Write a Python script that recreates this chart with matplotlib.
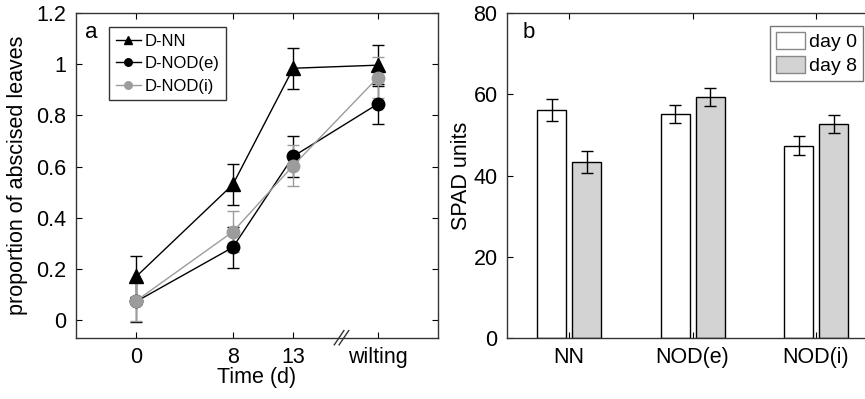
import numpy as np
import matplotlib.pyplot as plt
from matplotlib.ticker import FuncFormatter

plt.rcParams['font.family'] = ['Liberation Sans', 'DejaVu Sans']

# panel a: proportion of abscised leaves
time_pos = [0, 8, 13, 20]
time_labels = ['0', '8', '13', 'wilting']
nn_mean = [0.17, 0.53, 0.985, 0.997]
nn_err = [0.08, 0.08, 0.08, 0.08]
node_mean = [0.072, 0.284, 0.64, 0.845]
node_err = [0.08, 0.08, 0.08, 0.08]
nodi_mean = [0.075, 0.345, 0.604, 0.948]
nodi_err = [0.08, 0.08, 0.08, 0.08]

# panel b: SPAD units
groups = ['NN', 'NOD(e)', 'NOD(i)']
day0_mean = [56.2, 55.2, 47.4]
day0_err = [2.7, 2.3, 2.3]
day8_mean = [43.3, 59.3, 52.8]
day8_err = [2.8, 2.2, 2.2]

fig = plt.figure(figsize=(8.65, 3.99), dpi=100)
ax1 = fig.add_axes([0.0879, 0.1536, 0.4185, 0.813])
ax2 = fig.add_axes([0.5865, 0.1536, 0.4283, 0.813])

fs = 15.5
gray = '#9c9c9c'

for ax in (ax1, ax2):
    ax.tick_params(direction='in', top=True, right=True, length=4, width=0.8,
                   labelsize=fs, pad=7)
    for s in ax.spines.values():
        s.set_linewidth(1.0)
        s.set_color('#333333')

# --- panel a ---
e1 = ax1.errorbar(time_pos, nn_mean, yerr=nn_err, color='black', marker='^', ms=10,
                  lw=1, capsize=4, elinewidth=1)
e2 = ax1.errorbar(time_pos, node_mean, yerr=node_err, color='black', marker='o', ms=9,
                  lw=1, capsize=4, elinewidth=1)
e3 = ax1.errorbar(time_pos, nodi_mean, yerr=nodi_err, color=gray, marker='o', ms=9,
                  lw=1, capsize=4, elinewidth=1)

ax1.set_xlim(-5, 25)
ax1.set_ylim(-0.07, 1.2)
ax1.set_xticks(time_pos)
ax1.set_xticklabels(time_labels)
ax1.set_yticks(np.arange(0, 1.21, 0.2))
ax1.yaxis.set_major_formatter(FuncFormatter(lambda v, p: f'{v:g}'))
ax1.set_xlabel('Time (d)', fontsize=fs, labelpad=-1)
ax1.set_ylabel('proportion of abscised leaves', fontsize=fs, labelpad=6)

# axis break marks
for dx in (-0.2, 0.2):
    ax1.plot([17 + dx - 0.4, 17 + dx + 0.4], [-0.022, 0.022], color='#333333',
             lw=1, transform=ax1.get_xaxis_transform(), clip_on=False)

leg1 = ax1.legend([e1[0], e2[0], e3[0]], ['D-NN', 'D-NOD(e)', 'D-NOD(i)'],
                  loc='upper left', bbox_to_anchor=(0.091, 0.958), borderaxespad=0,
                  fontsize=12, fancybox=False, edgecolor='black', markerscale=0.6,
                  handlelength=1.5, handletextpad=0.25, borderpad=0.4, labelspacing=0.45)
leg1.get_frame().set_linewidth(1.0)
ax1.text(0.025, 0.942, 'a', transform=ax1.transAxes, fontsize=16, va='center', ha='left')

# --- panel b ---
x = np.arange(1, len(groups) + 1)
off = 0.142
w = 0.235
ax2.bar(x - off, day0_mean, w, color='white', edgecolor='black', lw=1, label='day 0')
ax2.bar(x + off, day8_mean, w, color='#d3d3d3', edgecolor='black', lw=1, label='day 8')
ax2.errorbar(x - off, day0_mean, yerr=day0_err, fmt='none', ecolor='black',
             elinewidth=1, capsize=4)
ax2.errorbar(x + off, day8_mean, yerr=day8_err, fmt='none', ecolor='black',
             elinewidth=1, capsize=4)
ax2.set_xlim(0.5, 3.5)
ax2.set_ylim(0, 80)
ax2.set_xticks(x)
ax2.set_xticklabels(groups)
ax2.set_yticks([0, 20, 40, 60, 80])
ax2.set_ylabel('SPAD units', fontsize=fs, labelpad=1)

leg2 = ax2.legend(loc='upper right', bbox_to_anchor=(0.959, 0.961), borderaxespad=0,
                  fontsize=14, fancybox=False, edgecolor='#555555',
                  handlelength=1.5, handleheight=0.95, handletextpad=0.2,
                  borderpad=0.3, labelspacing=0.25)
leg2.get_frame().set_linewidth(1.0)
for p in leg2.get_patches():
    p.set_edgecolor('#888888')
ax2.text(0.04, 0.942, 'b', transform=ax2.transAxes, fontsize=16, va='center', ha='left')

fig.savefig('out.png', dpi=100)
